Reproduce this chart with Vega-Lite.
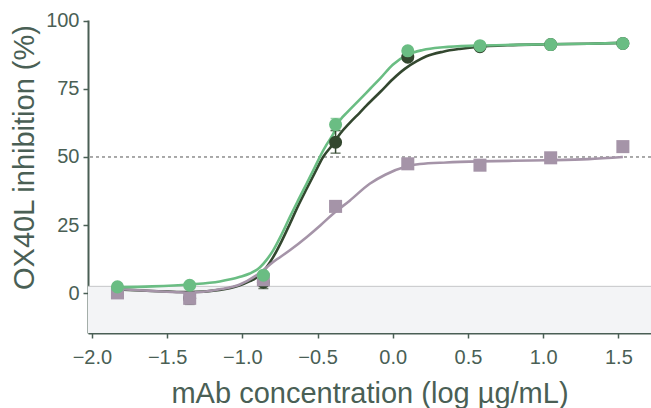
{
  "$schema": "https://vega.github.io/schema/vega-lite/v6.json",
  "width": 563,
  "height": 313,
  "autosize": {"type": "none"},
  "padding": {"left": 88, "top": 20, "right": 0, "bottom": 75},
  "background": "white",
  "config": {"view": {"stroke": null}, "font": "Liberation Sans"},
  "datasets": {
    "band": [{"band_lo": -14.5, "band_hi": 2.6}],
    "ref": [{"ref": 50}],
    "curve": [
      {"series": "B", "x": -1.83, "y": 1.5}, {"series": "B", "x": -1.6, "y": 0.9}, {"series": "B", "x": -1.35, "y": 0.5}, {"series": "B", "x": -1.15, "y": 1.3}, {"series": "B", "x": -1.02, "y": 2.9}, {"series": "B", "x": -0.95, "y": 4.5}, {"series": "B", "x": -0.884, "y": 6.6}, {"series": "B", "x": -0.84, "y": 9.5}, {"series": "B", "x": -0.795, "y": 13.3}, {"series": "B", "x": -0.74, "y": 19}, {"series": "B", "x": -0.684, "y": 25.5}, {"series": "B", "x": -0.63, "y": 32}, {"series": "B", "x": -0.573, "y": 38.3}, {"series": "B", "x": -0.52, "y": 44}, {"series": "B", "x": -0.463, "y": 50}, {"series": "B", "x": -0.4, "y": 54.5}, {"series": "B", "x": -0.35, "y": 58.5}, {"series": "B", "x": -0.286, "y": 62.5}, {"series": "B", "x": -0.22, "y": 66.2}, {"series": "B", "x": -0.175, "y": 68.8}, {"series": "B", "x": -0.08, "y": 74}, {"series": "B", "x": 0.0, "y": 78.5}, {"series": "B", "x": 0.08, "y": 82.3}, {"series": "B", "x": 0.157, "y": 85}, {"series": "B", "x": 0.224, "y": 86.9}, {"series": "B", "x": 0.335, "y": 88.6}, {"series": "B", "x": 0.445, "y": 89.6}, {"series": "B", "x": 0.556, "y": 90.3}, {"series": "B", "x": 0.8, "y": 91.0}, {"series": "B", "x": 1.04, "y": 91.3}, {"series": "B", "x": 1.3, "y": 91.5}, {"series": "B", "x": 1.53, "y": 91.8},
      {"series": "C", "x": -1.83, "y": 1.6}, {"series": "C", "x": -1.6, "y": 0.9}, {"series": "C", "x": -1.35, "y": 0.3}, {"series": "C", "x": -1.15, "y": 1.5}, {"series": "C", "x": -1.02, "y": 3.2}, {"series": "C", "x": -0.884, "y": 7.5}, {"series": "C", "x": -0.795, "y": 11.5}, {"series": "C", "x": -0.684, "y": 15.8}, {"series": "C", "x": -0.573, "y": 20.6}, {"series": "C", "x": -0.48, "y": 25}, {"series": "C", "x": -0.396, "y": 29.2}, {"series": "C", "x": -0.286, "y": 34}, {"series": "C", "x": -0.153, "y": 40.2}, {"series": "C", "x": -0.05, "y": 43.5}, {"series": "C", "x": 0.09, "y": 46.5}, {"series": "C", "x": 0.18, "y": 47.4}, {"series": "C", "x": 0.357, "y": 48.0}, {"series": "C", "x": 0.578, "y": 48.4}, {"series": "C", "x": 0.8, "y": 48.6}, {"series": "C", "x": 1.02, "y": 48.8}, {"series": "C", "x": 1.3, "y": 49.2}, {"series": "C", "x": 1.53, "y": 50.0},
      {"series": "A", "x": -1.83, "y": 2.3}, {"series": "A", "x": -1.6, "y": 2.6}, {"series": "A", "x": -1.35, "y": 3.3}, {"series": "A", "x": -1.15, "y": 4.4}, {"series": "A", "x": -1.02, "y": 6.0}, {"series": "A", "x": -0.95, "y": 7.3}, {"series": "A", "x": -0.884, "y": 9.5}, {"series": "A", "x": -0.84, "y": 12.2}, {"series": "A", "x": -0.795, "y": 15.8}, {"series": "A", "x": -0.74, "y": 21.5}, {"series": "A", "x": -0.684, "y": 28}, {"series": "A", "x": -0.63, "y": 34}, {"series": "A", "x": -0.573, "y": 40.2}, {"series": "A", "x": -0.52, "y": 46}, {"series": "A", "x": -0.485, "y": 50}, {"series": "A", "x": -0.44, "y": 54.5}, {"series": "A", "x": -0.4, "y": 58}, {"series": "A", "x": -0.35, "y": 63.5}, {"series": "A", "x": -0.3, "y": 66.5}, {"series": "A", "x": -0.22, "y": 71}, {"series": "A", "x": -0.15, "y": 75}, {"series": "A", "x": -0.08, "y": 79}, {"series": "A", "x": 0.0, "y": 83.8}, {"series": "A", "x": 0.1, "y": 87.5}, {"series": "A", "x": 0.2, "y": 89.2}, {"series": "A", "x": 0.335, "y": 90.2}, {"series": "A", "x": 0.556, "y": 90.8}, {"series": "A", "x": 0.8, "y": 91.1}, {"series": "A", "x": 1.04, "y": 91.3}, {"series": "A", "x": 1.3, "y": 91.5}, {"series": "A", "x": 1.53, "y": 91.8}
    ],
    "points": [
      {"series": "B", "x": -1.83, "y": 1.8, "lo": 1.0, "hi": 2.6},
      {"series": "B", "x": -1.35, "y": -1.8, "lo": -4.0, "hi": 0.4},
      {"series": "B", "x": -0.86, "y": 4.1, "lo": 1.8, "hi": 5.5},
      {"series": "B", "x": -0.38, "y": 55.4, "lo": 51.4, "hi": 59.7},
      {"series": "B", "x": 0.1, "y": 86.6, "lo": 85.5, "hi": 87.7},
      {"series": "B", "x": 0.58, "y": 90.4, "lo": 89.8, "hi": 91.0},
      {"series": "B", "x": 1.05, "y": 91.2, "lo": 90.7, "hi": 91.7},
      {"series": "B", "x": 1.53, "y": 91.6, "lo": 91.1, "hi": 92.1},
      {"series": "C", "x": -1.83, "y": 0.2, "lo": -0.5, "hi": 0.9},
      {"series": "C", "x": -1.35, "y": -1.8, "lo": -2.6, "hi": -1.0},
      {"series": "C", "x": -0.86, "y": 5.0, "lo": 4.2, "hi": 5.8},
      {"series": "C", "x": -0.38, "y": 31.9, "lo": 31.0, "hi": 32.8},
      {"series": "C", "x": 0.1, "y": 47.5, "lo": 46.8, "hi": 48.2},
      {"series": "C", "x": 0.58, "y": 47.0, "lo": 46.4, "hi": 47.6},
      {"series": "C", "x": 1.05, "y": 49.7, "lo": 49.1, "hi": 50.3},
      {"series": "C", "x": 1.53, "y": 53.8, "lo": 53.2, "hi": 54.4},
      {"series": "A", "x": -1.83, "y": 2.4, "lo": 1.8, "hi": 3.0},
      {"series": "A", "x": -1.35, "y": 3.0, "lo": 2.4, "hi": 3.6},
      {"series": "A", "x": -0.86, "y": 6.7, "lo": 6.0, "hi": 7.4},
      {"series": "A", "x": -0.38, "y": 61.9, "lo": 59.7, "hi": 64.1},
      {"series": "A", "x": 0.1, "y": 88.9, "lo": 88.2, "hi": 89.6},
      {"series": "A", "x": 0.58, "y": 90.8, "lo": 90.2, "hi": 91.4},
      {"series": "A", "x": 1.05, "y": 91.2, "lo": 90.6, "hi": 91.8},
      {"series": "A", "x": 1.53, "y": 91.6, "lo": 91.0, "hi": 92.2}
    ]
  },
  "layer": [
    {
      "data": {"name": "band"},
      "mark": {"type": "rect", "fill": "#f3f4f6", "clip": true},
      "encoding": {
        "y": {"field": "band_lo", "type": "quantitative", "scale": {"domain": [-14.5, 100.2], "nice": false, "zero": false}, "title": "OX40L inhibition (%)"},
        "y2": {"field": "band_hi"}
      }
    },
    {
      "data": {"name": "band"},
      "mark": {"type": "rule", "stroke": "#c4c6c8", "strokeWidth": 1},
      "encoding": {
        "y": {"field": "band_hi", "type": "quantitative", "title": "OX40L inhibition (%)"}
      }
    },
    {
      "data": {"name": "ref"},
      "mark": {"type": "rule", "stroke": "#555555", "strokeWidth": 1, "strokeDash": [3, 3]},
      "encoding": {
        "y": {"field": "ref", "type": "quantitative", "title": "OX40L inhibition (%)"}
      }
    },
    {
      "data": {"name": "curve"},
      "mark": {"type": "line", "interpolate": "monotone", "strokeWidth": 2.6},
      "encoding": {
        "x": {"field": "x", "type": "quantitative", "scale": {"domain": [-2.026, 1.717], "nice": false, "zero": false}, "title": "mAb concentration (log µg/mL)",
          "axis": {"values": [-2, -1.5, -1, -0.5, 0, 0.5, 1, 1.5], "format": ".1f", "grid": false, "domainColor": "#4a5f55", "domainWidth": 2, "tickColor": "#4a5f55", "tickWidth": 1.5, "tickSize": 5, "labelFontSize": 20, "labelColor": "#4a5f55", "labelPadding": 9, "titleFontSize": 29, "titleFontWeight": "normal", "titleColor": "#4a5f55", "titleBaseline": "alphabetic", "titleY": 69}},
        "y": {"field": "y", "type": "quantitative", "title": "OX40L inhibition (%)",
          "axis": {"values": [0, 25, 50, 75, 100], "grid": false, "domainColor": "#4a5f55", "domainWidth": 2, "tickColor": "#4a5f55", "tickWidth": 1.5, "tickSize": 5, "labelFontSize": 20, "labelColor": "#4a5f55", "labelPadding": 4, "titleFontSize": 29, "titleFontWeight": "normal", "titleColor": "#4a5f55", "titleBaseline": "alphabetic", "titleX": -55, "titleY": 137, "titleAlign": "center", "titleAngle": -90}},
        "color": {"field": "series", "type": "nominal", "scale": {"domain": ["A", "B", "C"], "range": ["#6abd83", "#33472f", "#a594a8"]}, "legend": null},
        "detail": {"field": "series"}
      }
    },
    {
      "data": {"name": "points"},
      "mark": {"type": "errorbar", "ticks": {"size": 10}, "thickness": 1.5},
      "encoding": {
        "x": {"field": "x", "type": "quantitative", "title": "mAb concentration (log µg/mL)"},
        "y": {"field": "lo", "type": "quantitative", "title": "OX40L inhibition (%)"},
        "y2": {"field": "hi"},
        "color": {"field": "series", "type": "nominal", "legend": null}
      }
    },
    {
      "data": {"name": "points"},
      "mark": {"type": "point", "filled": true, "opacity": 1},
      "encoding": {
        "x": {"field": "x", "type": "quantitative", "title": "mAb concentration (log µg/mL)"},
        "y": {"field": "y", "type": "quantitative", "title": "OX40L inhibition (%)"},
        "color": {"field": "series", "type": "nominal", "legend": null},
        "shape": {"field": "series", "type": "nominal", "scale": {"domain": ["A", "B", "C"], "range": ["circle", "circle", "square"]}, "legend": null},
        "size": {"field": "series", "type": "nominal", "scale": {"domain": ["A", "B", "C"], "range": [170, 170, 155]}, "legend": null}
      }
    }
  ]
}
